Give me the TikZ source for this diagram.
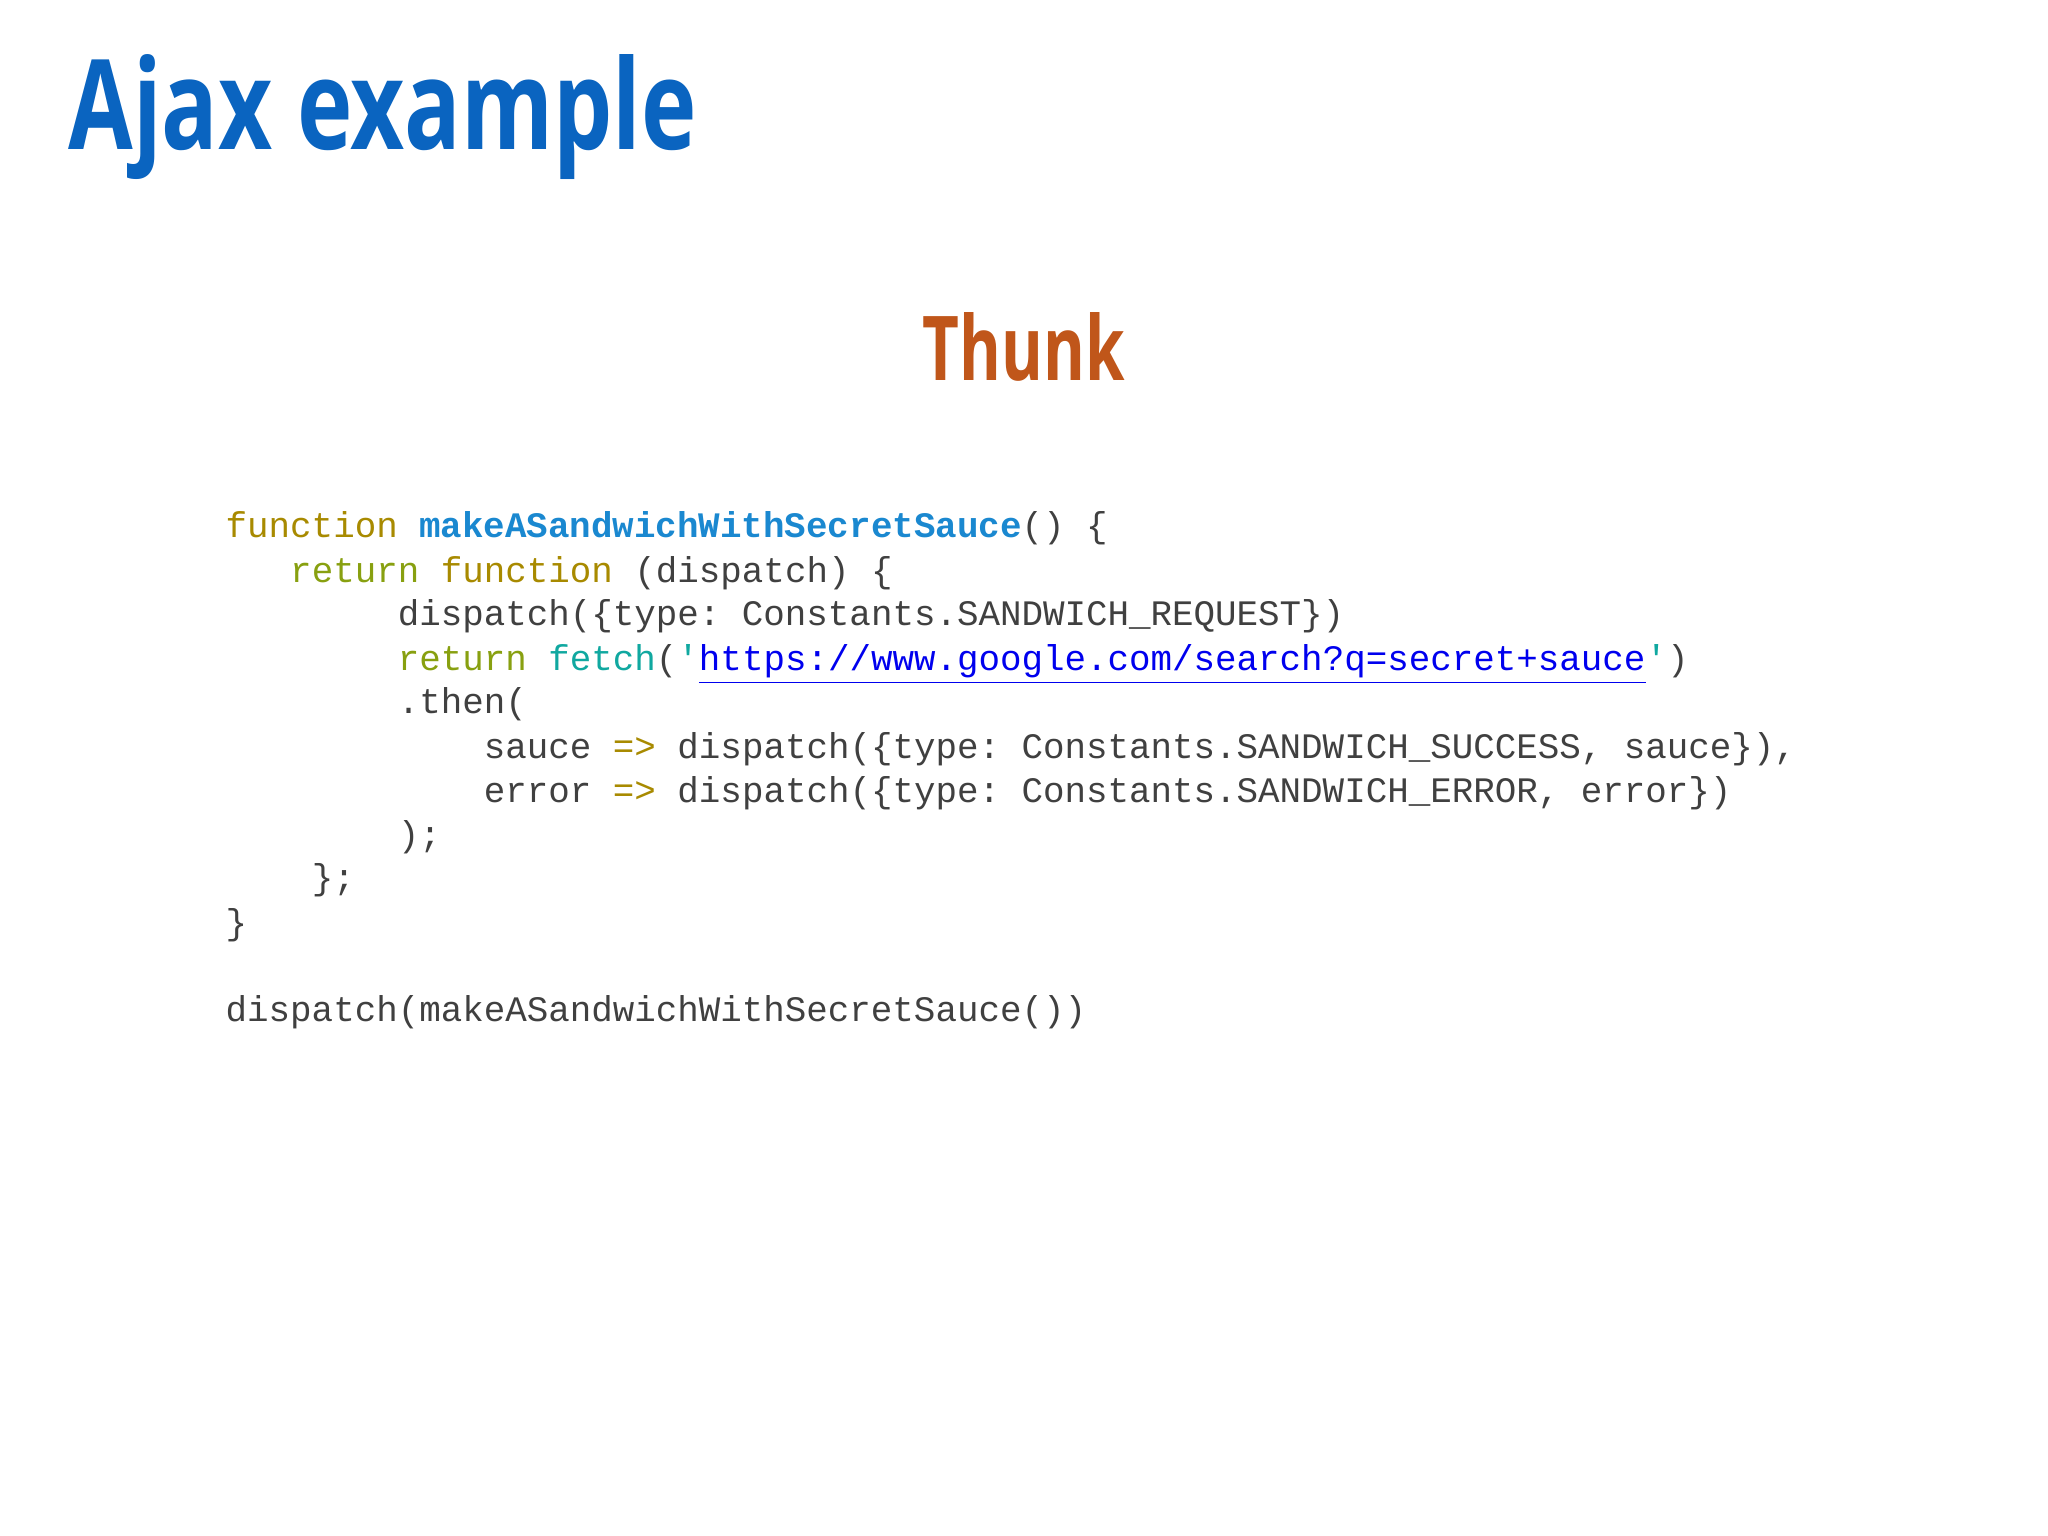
\documentclass[tikz,border=0pt]{standalone}
\usepackage{fontspec}
\setmainfont{Open Sans}
\setmonofont{Liberation Mono}
\definecolor{titleblue}{HTML}{0A64C0}
\definecolor{thunk}{HTML}{C0561A}
\definecolor{kwgold}{HTML}{A88A00}
\definecolor{kwgreen}{HTML}{88A010}
\definecolor{kwteal}{HTML}{10A8A0}
\definecolor{fnblue}{HTML}{1A88D0}
\definecolor{urlblue}{HTML}{0000EE}
\definecolor{codegray}{HTML}{404040}
\tikzset{codeline/.style={anchor=base west,inner sep=0pt,font=\fontsize{10.2pt}{12pt}\ttfamily,text=codegray}}
\newcommand{\kg}[1]{\textcolor{kwgold}{#1}}
\newcommand{\kr}[1]{\textcolor{kwgreen}{#1}}
\begin{document}
\begin{tikzpicture}
\useasboundingbox (0,0) rectangle (20.48,-15.36);
\fill[white] (0,0) rectangle (20.48,-15.36);
\node[anchor=base west,inner sep=0pt,text=titleblue] (title) at (0.68,-1.50)
  {\resizebox{6.28cm}{0.95cm}{\bfseries Ajax example}};
\node[anchor=base west,inner sep=0pt,text=thunk] (thunk) at (9.22,-3.81)
  {\resizebox{2.02cm}{0.68cm}{\bfseries Thunk}};
\def\dy{0.44}
\node[codeline] (l1) at (2.25,-5.38) {\kg{function} \textcolor{fnblue}{\bfseries makeASandwichWithSecretSauce}() \{};
\node[codeline] (l2) at (2.25,-5.82) {\ \ \ \kr{return} \kg{function} (dispatch) \{};
\node[codeline] (l3) at (2.25,-6.26) {\ \ \ \ \ \ \ \ dispatch(\{type: Constants.SANDWICH\_REQUEST\})};
\node[codeline] (l4) at (2.25,-6.70) {\ \ \ \ \ \ \ \ \kr{return} \textcolor{kwteal}{fetch}(\textcolor{kwteal}{'}\textcolor{urlblue}{\underline{https://www.google.com/search?q=secret+sauce}}\textcolor{kwteal}{'})};
\node[codeline] (l5) at (2.25,-7.14) {\ \ \ \ \ \ \ \ .then(};
\node[codeline] (l6) at (2.25,-7.58) {\ \ \ \ \ \ \ \ \ \ \ \ sauce \kg{=>} dispatch(\{type: Constants.SANDWICH\_SUCCESS, sauce\}),};
\node[codeline] (l7) at (2.25,-8.02) {\ \ \ \ \ \ \ \ \ \ \ \ error \kg{=>} dispatch(\{type: Constants.SANDWICH\_ERROR, error\})};
\node[codeline] (l8) at (2.25,-8.46) {\ \ \ \ \ \ \ \ );};
\node[codeline] (l9) at (2.25,-8.90) {\ \ \ \ \};};
\node[codeline] (l10) at (2.25,-9.34) {\}};
\node[codeline] (l12) at (2.25,-10.22) {dispatch(makeASandwichWithSecretSauce())};
\end{tikzpicture}
\end{document}
